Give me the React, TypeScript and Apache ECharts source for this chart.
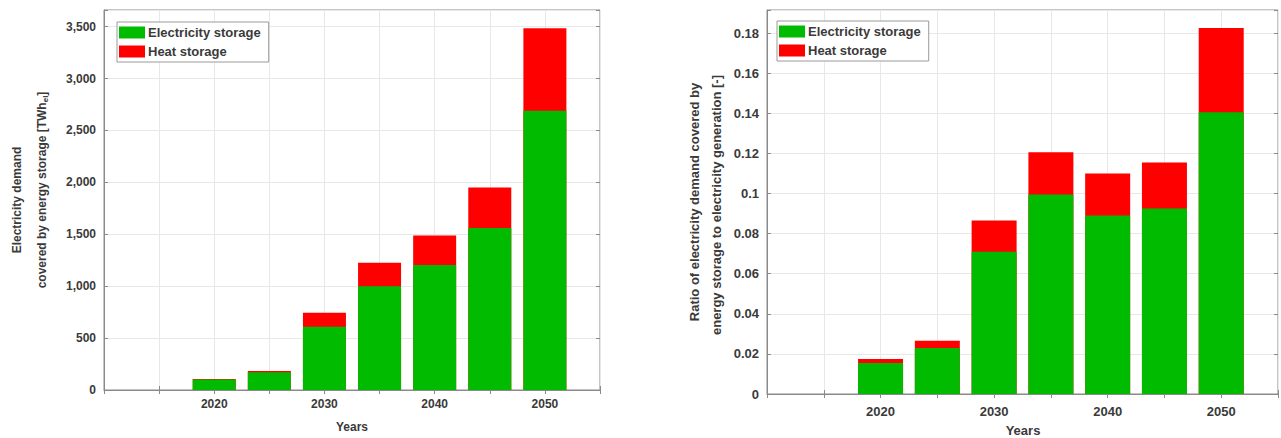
import React, { useEffect, useRef } from "react";
import * as echarts from "echarts";

const years = [2020, 2025, 2030, 2035, 2040, 2045, 2050];
const elecTWh = [100, 170, 610, 1000, 1205, 1560, 2690];
const heatTWh = [5, 12, 133, 225, 283, 390, 795];
const elecRatio = [0.0155, 0.023, 0.071, 0.0995, 0.089, 0.0925, 0.1405];
const heatRatio = [0.002, 0.0035, 0.0155, 0.021, 0.021, 0.023, 0.042];
const xTickLabels = [2020, 2030, 2040, 2050];
const seriesNames = ["Electricity storage", "Heat storage"];

const GREEN = "#00bb00";
const RED = "#ff0000";
const FONT = "Liberation Sans, Arial, sans-serif";
const TXT = "#3a3a3a";

function pairs(xs: number[], ys: number[]) {
  return xs.map((x, i) => [x, ys[i]]);
}
function sum(a: number[], b: number[]) {
  return a.map((v, i) => v + b[i]);
}

export default function App() {
  const ref = useRef<HTMLDivElement>(null);
  useEffect(() => {
    if (!ref.current) return;
    const chart = echarts.init(ref.current, null, { renderer: "svg" });
    const xLabelFmt = (v: number) => (xTickLabels.includes(v) ? String(v) : "");
    const leftYFmt = (v: number) =>
      Math.abs(v % 500) < 1e-6 ? v.toLocaleString("en-US") : "";
    const rightYFmt = (v: number) => {
      const k = v / 0.02;
      return Math.abs(k - Math.round(k)) < 1e-6 ? String(+v.toFixed(2)) : "";
    };
    const axisLine = { show: true, lineStyle: { color: "#8a8a8a", width: 1 } };
    const tick = { show: true, inside: true, length: 4, lineStyle: { color: "#8a8a8a" } };
    const split = { show: true, lineStyle: { color: "#e8e8e8", width: 1 } };
    const lbl = (size: number, margin: number, fmt: any) => ({
      show: true,
      fontFamily: FONT,
      fontSize: size,
      fontWeight: "bold",
      color: TXT,
      margin,
      formatter: fmt,
      showMinLabel: true,
      showMaxLabel: true,
    });
    const hiddenAxis = (grid: number, position: string, extra: any) => ({
      gridIndex: grid,
      position,
      axisLine: { show: false },
      axisTick: tick,
      axisLabel: { show: false },
      splitLine: { show: false },
      ...extra,
    });

    const xBase = { type: "value", min: 2010, max: 2055, interval: 5 };
    const yL = { type: "value", min: 0, max: 3660, interval: 500 };
    const yR = { type: "value", min: 0, max: 0.1915, interval: 0.02 };

    const legendCommon = {
      orient: "vertical",
      icon: "rect",
      itemWidth: 26,
      itemHeight: 12,
      itemGap: 6,
      borderColor: "#9a9a9a",
      borderWidth: 1,
      backgroundColor: "#fff",
      padding: [4, 8, 4, 2],
      data: seriesNames,
      selectedMode: false,
      textStyle: { fontFamily: FONT, fontSize: 13, fontWeight: "bold", color: TXT, padding: [0, 0, 0, -2] },
    };

    const barSeries = (
      name: string,
      color: string,
      axis: number,
      width: number,
      values: number[],
      z: number
    ) => ({
      name,
      type: "bar",
      xAxisIndex: axis,
      yAxisIndex: axis,
      barWidth: width,
      barGap: "-100%",
      z,
      itemStyle: { color },
      data: pairs(years, values),
    });

    chart.setOption({
      animation: false,
      backgroundColor: "#fff",
      color: [GREEN, RED],
      grid: [
        { left: 104, top: 10, width: 496, height: 380, show: true, borderColor: "#8a8a8a", borderWidth: 1, backgroundColor: "#fff" },
        { left: 767, top: 10, width: 516, height: 384, show: true, borderColor: "#8a8a8a", borderWidth: 1, backgroundColor: "#fff" },
      ],
      legend: [
        { ...legendCommon, left: 117, top: 22 },
        { ...legendCommon, left: 777, top: 21 },
      ],
      xAxis: [
        { ...xBase, gridIndex: 0, position: "bottom", axisLine, axisTick: tick, splitLine: split, axisLabel: lbl(12, 8, xLabelFmt) },
        hiddenAxis(0, "top", xBase),
        { ...xBase, gridIndex: 1, position: "bottom", axisLine, axisTick: tick, splitLine: split, axisLabel: lbl(13, 11, xLabelFmt) },
        hiddenAxis(1, "top", xBase),
      ],
      yAxis: [
        { ...yL, gridIndex: 0, position: "left", axisLine, axisTick: tick, splitLine: split, axisLabel: lbl(12, 8, leftYFmt) },
        hiddenAxis(0, "right", yL),
        { ...yR, gridIndex: 1, position: "left", axisLine, axisTick: tick, splitLine: split, axisLabel: lbl(13, 8, rightYFmt) },
        hiddenAxis(1, "right", yR),
      ],
      series: [
        // heat storage drawn as the stacked total, electricity storage overlaid on its lower part
        barSeries(seriesNames[1], RED, 0, 43, sum(elecTWh, heatTWh), 2),
        barSeries(seriesNames[0], GREEN, 0, 43, elecTWh, 3),
        barSeries(seriesNames[1], RED, 2, 45, sum(elecRatio, heatRatio), 2),
        barSeries(seriesNames[0], GREEN, 2, 45, elecRatio, 3),
      ],
      graphic: [
        {
          type: "text", x: 17, y: 200, rotation: Math.PI / 2,
          style: { text: "Electricity demand", fontFamily: FONT, fontSize: 12, fontWeight: "bold", fill: TXT, align: "center", verticalAlign: "middle" },
        },
        {
          type: "text", x: 42, y: 190, rotation: Math.PI / 2,
          style: {
            text: "covered by energy storage [TWh{sub|el}]",
            rich: { sub: { fontSize: 8, fontFamily: FONT, fontWeight: "bold", fill: TXT, padding: [6, 0, 0, 0] } },
            fontFamily: FONT, fontSize: 12, fontWeight: "bold", fill: TXT, align: "center", verticalAlign: "middle",
          },
        },
        {
          type: "text", x: 352, y: 427,
          style: { text: "Years", fontFamily: FONT, fontSize: 12, fontWeight: "bold", fill: TXT, align: "center", verticalAlign: "middle" },
        },
        {
          type: "text", x: 694, y: 202, rotation: Math.PI / 2,
          style: { text: "Ratio of electricity demand covered by", fontFamily: FONT, fontSize: 13, fontWeight: "bold", fill: TXT, align: "center", verticalAlign: "middle" },
        },
        {
          type: "text", x: 716, y: 205, rotation: Math.PI / 2,
          style: { text: "energy storage to electricity generation [-]", fontFamily: FONT, fontSize: 13, fontWeight: "bold", fill: TXT, align: "center", verticalAlign: "middle" },
        },
        {
          type: "text", x: 1023, y: 430,
          style: { text: "Years", fontFamily: FONT, fontSize: 13, fontWeight: "bold", fill: TXT, align: "center", verticalAlign: "middle" },
        },
      ],
    });
    return () => chart.dispose();
  }, []);
  return (
    <div
      ref={ref}
      style={{ position: "fixed", left: 0, top: 0, width: 1281, height: 438, background: "#fff" }}
    />
  );
}
